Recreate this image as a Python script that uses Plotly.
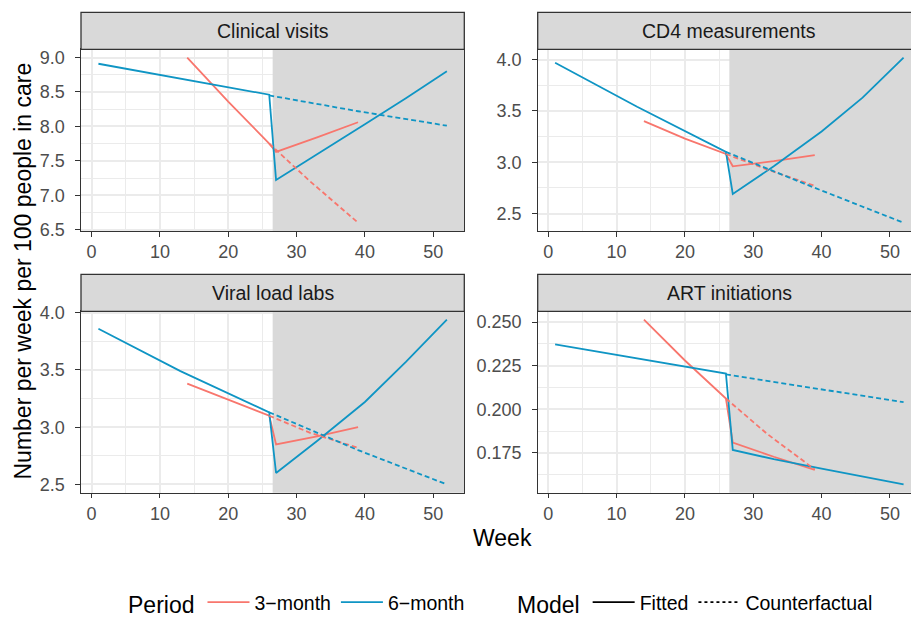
import plotly.graph_objects as go

W, H = 911, 617

# ---------------- data ----------------
PANELS = ["Clinical visits", "CD4 measurements", "Viral load labs", "ART initiations"]
INTERVENTION_WEEK = 26.5

WEEK_3M_FIT = [14, 20, 26, 27, 33, 39]
WEEK_3M_CF = [26, 32, 39]
WEEK_6M_FIT = [1, 13, 26, 27, 33, 40, 46, 52]
WEEK_6M_CF = [26, 39, 52]

# Clinical visits
CLIN_3M_FIT = [9.00, 8.36, 7.75, 7.63, 7.84, 8.06]
CLIN_3M_CF = [7.75, 7.20, 6.60]
CLIN_6M_FIT = [8.91, 8.69, 8.46, 7.22, 7.59, 8.03, 8.41, 8.80]
CLIN_6M_CF = [8.45, 8.22, 8.01]

# CD4 measurements
CD4_3M_FIT = [3.40, 3.23, 3.08, 2.96, 3.01, 3.07]
CD4_3M_CF = [3.08, 2.93, 2.77]
CD4_6M_FIT = [3.97, 3.54, 3.10, 2.69, 2.96, 3.30, 3.63, 4.02]
CD4_6M_CF = [3.10, 2.75, 2.41]

# Viral load labs
VL_3M_FIT = [3.38, 3.24, 3.10, 2.85, 2.92, 3.00]
VL_3M_CF = [3.10, 2.95, 2.82]
VL_6M_FIT = [3.86, 3.49, 3.13, 2.60, 2.88, 3.22, 3.57, 3.94]
VL_6M_CF = [3.13, 2.80, 2.50]

# ART initiations
ART_3M_FIT = [0.2515, 0.2280, 0.2062, 0.1809, 0.1728, 0.1653]
ART_3M_CF = [0.2062, 0.1860, 0.1655]
ART_6M_FIT = [0.2372, 0.2290, 0.2205, 0.1767, 0.1714, 0.1660, 0.1613, 0.1569]
ART_6M_CF = [0.2200, 0.2120, 0.2041]

X_TICKS = [0, 10, 20, 30, 40, 50]
Y_TICKS = [
    [6.5, 7.0, 7.5, 8.0, 8.5, 9.0],
    [2.5, 3.0, 3.5, 4.0],
    [2.5, 3.0, 3.5, 4.0],
    [0.175, 0.200, 0.225, 0.250],
]
Y_FMT = [".1f", ".1f", ".1f", ".3f"]

SERIES = [
    (CLIN_3M_FIT, CLIN_3M_CF, CLIN_6M_FIT, CLIN_6M_CF),
    (CD4_3M_FIT, CD4_3M_CF, CD4_6M_FIT, CD4_6M_CF),
    (VL_3M_FIT, VL_3M_CF, VL_6M_FIT, VL_6M_CF),
    (ART_3M_FIT, ART_3M_CF, ART_6M_FIT, ART_6M_CF),
]

PERIODS = ["3\u2212month", "6\u2212month"]
MODELS = ["Fitted", "Counterfactual"]

# ---------------- style ----------------
RED = "#F8766D"
BLUE = "#0F95C4"
SHADE = "#D9D9D9"
FONT = "Liberation Sans, Arial, Helvetica, sans-serif"
LW = 1.8
DASH = "5px,3px"

def px_x(p):
    return p / W

def px_y(p):
    return 1 - p / H

# panel boxes in pixels (left, right, top, bottom)
LEFT_L, LEFT_R = 81.0, 464.3
RIGHT_L, RIGHT_R = 537.7, 911.0
TOP_T, TOP_B = 49.3, 231.0
BOT_T, BOT_B = 311.3, 492.7
STRIP_H = 37.0

BOXES = [
    (LEFT_L, LEFT_R, TOP_T, TOP_B),
    (RIGHT_L, RIGHT_R, TOP_T, TOP_B),
    (LEFT_L, LEFT_R, BOT_T, BOT_B),
    (RIGHT_L, RIGHT_R, BOT_T, BOT_B),
]

X_MIN, X_MAX = 1, 52
x_pad = 0.05 * (X_MAX - X_MIN)
x_lo, x_hi = X_MIN - x_pad, X_MAX + x_pad
px_per_unit = (LEFT_R - LEFT_L) / (x_hi - x_lo)

fig = go.Figure()

layout = dict(
    width=W, height=H,
    margin=dict(l=0, r=0, t=0, b=0, autoexpand=False),
    paper_bgcolor="white", plot_bgcolor="white",
    font=dict(family=FONT, color="#1A1A1A"),
    shapes=[], annotations=[],
)

for i, (l, r, t, b) in enumerate(BOXES):
    sfx = "" if i == 0 else str(i + 1)
    xa = "x" + sfx
    ya = "y" + sfx
    s3f, s3c, s6f, s6c = SERIES[i]
    vals = [v for s in SERIES[i] for v in s]
    vmin, vmax = min(vals), max(vals)
    pad = 0.05 * (vmax - vmin)
    y_lo, y_hi = vmin - pad, vmax + pad
    xr_hi = x_lo + (r - l) / px_per_unit
    major_y = Y_TICKS[i][1] - Y_TICKS[i][0]
    is_right = i % 2 == 1
    show = i == 0

    # shaded post-intervention region (drawn above gridlines, below lines)
    fig.add_trace(go.Scatter(
        x=[INTERVENTION_WEEK, xr_hi + 1, xr_hi + 1, INTERVENTION_WEEK, INTERVENTION_WEEK],
        y=[y_lo - 1, y_lo - 1, y_hi + 1, y_hi + 1, y_lo - 1],
        mode="lines", fill="toself", fillcolor=SHADE, line=dict(width=0, color=SHADE),
        hoverinfo="skip", showlegend=False, xaxis=xa, yaxis=ya))

    fig.add_trace(go.Scatter(x=WEEK_3M_FIT, y=s3f, mode="lines", xaxis=xa, yaxis=ya,
                             line=dict(color=RED, width=LW), name=PERIODS[0],
                             legendgroup="p3", showlegend=show, legend="legend"))
    fig.add_trace(go.Scatter(x=WEEK_6M_FIT, y=s6f, mode="lines", xaxis=xa, yaxis=ya,
                             line=dict(color=BLUE, width=LW), name=PERIODS[1],
                             legendgroup="p6", showlegend=show, legend="legend"))
    fig.add_trace(go.Scatter(x=WEEK_3M_CF, y=s3c, mode="lines", xaxis=xa, yaxis=ya,
                             line=dict(color=RED, width=LW, dash=DASH), name=PERIODS[0],
                             legendgroup="p3", showlegend=False))
    fig.add_trace(go.Scatter(x=WEEK_6M_CF, y=s6c, mode="lines", xaxis=xa, yaxis=ya,
                             line=dict(color=BLUE, width=LW, dash=DASH), name=PERIODS[1],
                             legendgroup="p6", showlegend=False))

    layout["xaxis" + sfx] = dict(
        domain=[px_x(l), px_x(r)], range=[x_lo, xr_hi], anchor=ya,
        tickmode="array", tickvals=X_TICKS, ticks="outside", ticklen=4.5,
        tickwidth=1.1, tickcolor="#333333",
        tickfont=dict(size=18, color="#4D4D4D", family=FONT),
        showgrid=True, gridcolor="#EBEBEB", gridwidth=1.6,
        minor=dict(dtick=5, tick0=0, showgrid=True, gridcolor="#EBEBEB", gridwidth=0.8),
        showline=True, linecolor="#333333", linewidth=1.1, mirror=True,
        zeroline=False, fixedrange=True, automargin=False,
    )
    layout["yaxis" + sfx] = dict(
        domain=[px_y(b), px_y(t)], range=[y_lo, y_hi], anchor=xa,
        tickmode="linear", tick0=Y_TICKS[i][0], dtick=major_y, tickformat=Y_FMT[i],
        ticks="outside", ticklen=4.5, tickwidth=1.1, tickcolor="#333333",
        ticklabelstandoff=7,
        tickfont=dict(size=18, color="#4D4D4D", family=FONT),
        showgrid=True, gridcolor="#EBEBEB", gridwidth=1.6,
        minor=dict(dtick=major_y / 2, tick0=Y_TICKS[i][0], showgrid=True,
                   gridcolor="#EBEBEB", gridwidth=0.8),
        showline=True, linecolor="#333333", linewidth=1.1, mirror=not is_right,
        zeroline=False, fixedrange=True, automargin=False,
    )
    # strip
    sr = r + 5 if is_right else r
    layout["shapes"].append(dict(
        type="rect", xref="paper", yref="paper",
        x0=px_x(l), x1=px_x(sr), y0=px_y(t), y1=px_y(t - STRIP_H),
        fillcolor=SHADE, line=dict(color="#333333", width=1.3), layer="above"))
    center = l + (x_hi - x_lo) * px_per_unit / 2
    layout["annotations"].append(dict(
        text=PANELS[i], xref="paper", yref="paper",
        x=px_x(center), y=px_y(t - STRIP_H / 2), xanchor="center", yanchor="middle",
        showarrow=False, font=dict(size=19.5, color="#1A1A1A", family=FONT)))

# legend-only entries for Model
fig.add_trace(go.Scatter(x=[None], y=[None], mode="lines", name=MODELS[0],
                         line=dict(color="black", width=LW), legend="legend2"))
fig.add_trace(go.Scatter(x=[None], y=[None], mode="lines", name=MODELS[1],
                         line=dict(color="black", width=LW, dash="3px,3px"), legend="legend2"))

layout["annotations"].append(dict(
    text="Week", xref="paper", yref="paper", x=px_x(502), y=px_y(538),
    xanchor="center", yanchor="middle", showarrow=False,
    font=dict(size=23, color="black", family=FONT)))
layout["annotations"].append(dict(
    text="Number per week per 100 people in care", xref="paper", yref="paper",
    x=px_x(22.5), y=px_y(271), xanchor="center", yanchor="middle", textangle=-90,
    showarrow=False, font=dict(size=23, color="black", family=FONT)))

layout["legend"] = dict(
    orientation="h", x=px_x(126), y=px_y(603), xanchor="left", yanchor="middle",
    title=dict(text="Period", font=dict(size=23, color="black", family=FONT), side="left"),
    font=dict(size=19.5, color="black", family=FONT), bgcolor="rgba(0,0,0,0)",
    traceorder="normal", itemwidth=42)
layout["legend2"] = dict(
    orientation="h", x=px_x(515), y=px_y(603), xanchor="left", yanchor="middle",
    title=dict(text="Model", font=dict(size=23, color="black", family=FONT), side="left"),
    font=dict(size=19.5, color="black", family=FONT), bgcolor="rgba(0,0,0,0)",
    traceorder="normal", itemwidth=42)

fig.update_layout(**layout)
fig.write_html(
    "out.html",
    config={"displayModeBar": False},
    post_script="document.body.style.margin='0px';document.body.style.overflow='hidden';",
)
